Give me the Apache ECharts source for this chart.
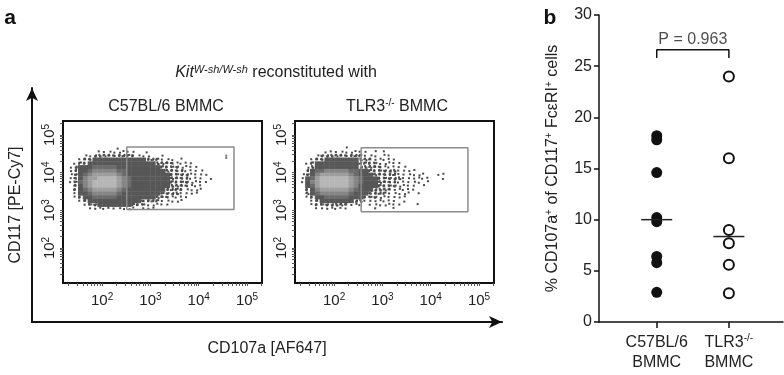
<!DOCTYPE html>
<html><head><meta charset="utf-8">
<script src="https://cdn.jsdelivr.net/npm/echarts@6/dist/echarts.min.js"></script>
<style>html,body{margin:0;padding:0;background:#fff}#c{width:784px;height:375px}</style>
</head><body><div id="c"></div>
<script>
// ================= Panel a data (flow cytometry, log10 units) =================
const decadeTicks = [2, 3, 4, 5];            // 10^2 .. 10^5
const xRange = [1.19, 5.31];
const yRange = [1.07, 5.37];
const gridStep = 0.1;                        // density cell size (decades)
const gridX0 = 1.3;                          // left edge of first column
const gridYTop = 4.7;                        // top edge of first row
// density level per cell (0 empty, 1 sparse ... 7 densest), rows top -> bottom
const densityC57 = [
  "0000000000100000000000000000000",
  "0000001111111100100000000000000",
  "0001122222222211100100000000000",
  "0012233333333333222111010000000",
  "0122333333333333332222111100000",
  "1233344444333333333222211110000",
  "1233455555443333333322221111000",
  "1234566666543333333332222111100",
  "1235667777654333333332222111010",
  "1245677777654333333332222111100",
  "0235677777654333333332222111000",
  "0234566666543333333322221111000",
  "0133455555433333333222211110000",
  "0123344444333333332221111000000",
  "0012333333333332222111110000000",
  "0001223333333222111110000000000",
  "0000111111111101110000000000000"
];
const densityTLR3 = [
  "0000000001000000000000000000000",
  "0000011111111101010000000000000",
  "0001222222222111011000000000000",
  "0012233333332221111100000000000",
  "0123333333332222111110000000000",
  "0123333333332222211111000000000",
  "0234455555443322222211110000000",
  "1235666666543332222211111100110",
  "1346777777654333222221111110010",
  "1356777777654333222211111010000",
  "0346777777653333222211110100000",
  "0235666666543332222111110000000",
  "0234555555433322221111101000000",
  "0123344444333222111111000000000",
  "0012333333322111111101000000000",
  "0012222222111011111110001000000",
  "0001111111000001000100000000000"
];
const gateC57 = [2.51, 4.73, 3.02, 4.68];    // xmin, xmax, ymin, ymax
const gateTLR3 = [2.56, 4.77, 2.96, 4.66];
const strayC57 = [[4.57, 4.45], [4.57, 4.39]];

// ================= Panel b data =================
const groupPos = [1, 2];
const c57Values = [18.2, 17.8, 14.6, 10.2, 9.8, 6.4, 5.8, 2.9];
const tlr3Values = [24.0, 16.0, 9.0, 7.7, 5.6, 2.8];
const bracketY = [25.8, 26.6];
const pValueText = 'P = 0.963';

// ---------------- helpers ----------------
function median(a) { const s = a.slice().sort((p, q) => p - q); const m = s.length >> 1; return s.length % 2 ? s[m] : (s[m - 1] + s[m]) / 2; }
function gridToData(rows) {
  const out = [];
  rows.forEach((row, j) => {
    const r = row.padEnd(31, '0');
    for (let i = 0; i < r.length; i++) {
      const lv = +r[i];
      if (lv > 0) out.push([gridX0 + (i + 0.5) * gridStep, gridYTop - (j + 0.5) * gridStep, lv, i, j]);
    }
  });
  return out;
}
function gateLine(g) { return [[g[0], g[2]], [g[1], g[2]], [g[1], g[3]], [g[0], g[3]], [g[0], g[2]]]; }
const logTicks = [];
for (let n = 1; n <= 5; n++) for (let k = 1; k <= 9; k++) logTicks.push(n + Math.log10(k));
const xLogTicks = logTicks.filter(v => v >= xRange[0] && v <= xRange[1]);
const yLogTicks = logTicks.filter(v => v >= yRange[0] && v <= yRange[1]);

const SHADES = { 3: '#575757', 4: '#6b6b6b', 5: '#858585', 6: '#9e9e9e', 7: '#b6b6b6' };
const JIT = [[0.15, 0.2], [0.62, 0.7], [0.38, 0.02], [0.9, 0.35], [0.02, 0.78], [0.5, 0.45], [0.82, 0.95], [0.27, 0.55], [0.7, 0.1], [0.1, 0.4], [0.55, 0.9]];
function renderDensity(params, api) {
  const x = api.value(0), y = api.value(1), lv = api.value(2), i = api.value(3), j = api.value(4);
  const a = api.coord([x - gridStep / 2, y + gridStep / 2]);
  const b = api.coord([x + gridStep / 2, y - gridStep / 2]);
  const w = b[0] - a[0], h = b[1] - a[1];
  if (lv >= 3) return { type: 'rect', shape: { x: a[0], y: a[1], width: w + 0.4, height: h + 0.4 }, style: { fill: SHADES[lv] } };
  const n = lv === 1 ? 1 : 3;
  const ch = [];
  for (let k = 0; k < n; k++) {
    const jt = JIT[(i * 7 + j * 13 + k * 4) % JIT.length];
    ch.push({ type: 'rect', shape: { x: a[0] + jt[0] * (w - 2), y: a[1] + jt[1] * (h - 2), width: 2, height: 2 }, style: { fill: '#4a4a4a' } });
  }
  return { type: 'group', children: ch };
}

const FONT = 'Liberation Sans, Arial, sans-serif';
const supRich = {
  b: { fontSize: 15, lineHeight: 17, color: '#222', fontFamily: FONT },
  s: { fontSize: 10, lineHeight: 10, verticalAlign: 'top', color: '#222', fontFamily: FONT }
};
function plotX(gi) {
  return {
    gridIndex: gi, type: 'value', min: xRange[0], max: xRange[1],
    axisLine: { show: true, lineStyle: { color: '#111', width: 2 } },
    axisTick: { show: true, customValues: xLogTicks, length: 3, lineStyle: { color: '#555', width: 1 } },
    axisLabel: { show: true, customValues: decadeTicks, margin: 9, formatter: v => '{b|10}{s|' + Math.round(v) + '}', rich: supRich },
    splitLine: { show: false }
  };
}
function plotY(gi) {
  return {
    gridIndex: gi, type: 'value', min: yRange[0], max: yRange[1],
    axisLine: { show: true, lineStyle: { color: '#111', width: 2 } },
    axisTick: { show: true, customValues: yLogTicks, length: 3, lineStyle: { color: '#555', width: 1 } },
    axisLabel: { show: true, rotate: 90, customValues: decadeTicks, margin: 5, formatter: v => '{b|10}{s|' + Math.round(v) + '}', rich: supRich },
    splitLine: { show: false }
  };
}

const chart = echarts.init(document.getElementById('c'), null, { renderer: 'canvas' });
const medC = median(c57Values), medT = median(tlr3Values);

chart.setOption({
  animation: false,
  backgroundColor: '#fff',
  textStyle: { fontFamily: FONT },
  grid: [
    { left: 27, top: 88, width: 475, height: 234, show: false },
    { left: 63, top: 121, width: 199, height: 162, show: true, borderColor: '#111', borderWidth: 2, backgroundColor: 'transparent' },
    { left: 295, top: 121, width: 199, height: 162, show: true, borderColor: '#111', borderWidth: 2, backgroundColor: 'transparent' },
    { left: 599, top: 15, width: 184, height: 307, show: false }
  ],
  xAxis: [
    { gridIndex: 0, type: 'value', min: 0, max: 1,
      axisLine: { show: true, onZero: false, symbol: ['none', 'arrow'], symbolSize: [9, 13], lineStyle: { color: '#111', width: 2 } },
      axisTick: { show: false }, axisLabel: { show: false }, splitLine: { show: false },
      name: 'CD107a [AF647]', nameLocation: 'middle', nameGap: 19, nameTextStyle: { fontSize: 16, color: '#222', fontFamily: FONT } },
    plotX(1),
    plotX(2),
    { gridIndex: 3, type: 'value', min: 0.2, max: 2.75,
      axisLine: { show: true, onZero: false, lineStyle: { color: '#111', width: 1.5 } },
      axisTick: { show: true, customValues: groupPos, length: 6, lineStyle: { color: '#111', width: 1.5 } },
      axisLabel: { show: true, customValues: groupPos, margin: 11, color: '#222',
        formatter: v => v === 1 ? '{t|C57BL/6}\n{t|BMMC}' : '{t|TLR3}{s|-/-}\n{t|BMMC}',
        rich: { t: { fontSize: 16, lineHeight: 20, color: '#222', fontFamily: FONT, align: 'center' },
                s: { fontSize: 10, lineHeight: 10, verticalAlign: 'top', color: '#222', fontFamily: FONT } } },
      splitLine: { show: false } }
  ],
  yAxis: [
    { gridIndex: 0, type: 'value', min: 0, max: 1,
      axisLine: { show: true, onZero: false, symbol: ['none', 'arrow'], symbolSize: [9, 13], lineStyle: { color: '#111', width: 2 } },
      axisTick: { show: false }, axisLabel: { show: false }, splitLine: { show: false },
      name: 'CD117 [PE-Cy7]', nameLocation: 'middle', nameGap: 8, nameRotate: 90, nameTextStyle: { fontSize: 16, color: '#222', fontFamily: FONT } },
    plotY(1),
    plotY(2),
    { gridIndex: 3, type: 'value', min: 0, max: 30, interval: 5,
      axisLine: { show: true, onZero: false, lineStyle: { color: '#111', width: 1.5 } },
      axisTick: { show: true, length: 5, lineStyle: { color: '#111', width: 1.5 } },
      axisLabel: { fontSize: 16, color: '#222', margin: 7, fontFamily: FONT },
      splitLine: { show: false },
      name: '{n|% CD107a}{s|+}{n| of CD117}{s|+}{n| FcεRI}{s|+}{n| cells}', nameLocation: 'middle', nameGap: 37, nameRotate: 90,
      nameTextStyle: { rich: { n: { fontSize: 16, lineHeight: 18, color: '#222', fontFamily: FONT },
                               s: { fontSize: 10, lineHeight: 10, verticalAlign: 'top', color: '#222', fontFamily: FONT } } } }
  ],
  series: [
    { type: 'custom', xAxisIndex: 1, yAxisIndex: 1, data: gridToData(densityC57), renderItem: renderDensity, encode: { x: 0, y: 1 }, clip: true, silent: true },
    { type: 'line', xAxisIndex: 1, yAxisIndex: 1, data: gateLine(gateC57), showSymbol: false, lineStyle: { color: '#8c8c8c', width: 1.5 }, z: 5 },
    { type: 'scatter', xAxisIndex: 1, yAxisIndex: 1, data: strayC57, symbol: 'rect', symbolSize: 2, itemStyle: { color: '#777', opacity: 1 } },
    { type: 'custom', xAxisIndex: 2, yAxisIndex: 2, data: gridToData(densityTLR3), renderItem: renderDensity, encode: { x: 0, y: 1 }, clip: true, silent: true },
    { type: 'line', xAxisIndex: 2, yAxisIndex: 2, data: gateLine(gateTLR3), showSymbol: false, lineStyle: { color: '#8c8c8c', width: 1.5 }, z: 5 },

    { type: 'scatter', xAxisIndex: 3, yAxisIndex: 3, data: c57Values.map(v => [groupPos[0], v]), symbol: 'circle', symbolSize: 11, itemStyle: { color: '#111', opacity: 1 } },
    { type: 'scatter', xAxisIndex: 3, yAxisIndex: 3, data: tlr3Values.map(v => [groupPos[1], v]), symbol: 'circle', symbolSize: 10, itemStyle: { color: '#fff', borderColor: '#111', borderWidth: 2, opacity: 1 } },
    { type: 'scatter', xAxisIndex: 3, yAxisIndex: 3, data: [[groupPos[0], medC], [groupPos[1], medT]], symbol: 'rect', symbolSize: [31, 1.5], itemStyle: { color: '#222', opacity: 1 }, z: 6 },
    { type: 'line', xAxisIndex: 3, yAxisIndex: 3, data: [[groupPos[0], bracketY[0]], [groupPos[0], bracketY[1]], [groupPos[1], bracketY[1]], [groupPos[1], bracketY[0]]],
      showSymbol: false, lineStyle: { color: '#111', width: 1.5 } },
    { type: 'scatter', xAxisIndex: 3, yAxisIndex: 3, data: [[(groupPos[0] + groupPos[1]) / 2, bracketY[1]]], symbolSize: 0,
      label: { show: true, position: 'top', distance: 2, formatter: pValueText, fontSize: 16, color: '#222', fontFamily: FONT } }
  ],
  graphic: [
    { type: 'text', x: 10, y: 18, style: { text: 'a', font: 'bold 21px ' + FONT, fill: '#111', align: 'center', verticalAlign: 'middle' } },
    { type: 'text', x: 550, y: 18, style: { text: 'b', font: 'bold 21px ' + FONT, fill: '#111', align: 'center', verticalAlign: 'middle' } },
    { type: 'text', x: 276, y: 73, style: {
        text: '{i|Kit}{si|W-sh/W-sh}{n| reconstituted with}', align: 'center', verticalAlign: 'middle',
        rich: { i: { fontSize: 16, lineHeight: 18, fontStyle: 'italic', fontFamily: FONT, fill: '#222' },
                si: { fontSize: 11, lineHeight: 11, verticalAlign: 'top', fontStyle: 'italic', fontFamily: FONT, fill: '#222' },
                n: { fontSize: 16, lineHeight: 18, fontFamily: FONT, fill: '#222' } } } },
    { type: 'text', x: 166, y: 107, style: { text: 'C57BL/6 BMMC', font: '16px ' + FONT, fill: '#222', align: 'center', verticalAlign: 'middle' } },
    { type: 'text', x: 397, y: 107, style: {
        text: '{n|TLR3}{s|-/-}{n| BMMC}', align: 'center', verticalAlign: 'middle',
        rich: { n: { fontSize: 16, lineHeight: 18, fontFamily: FONT, fill: '#222' },
                s: { fontSize: 10, lineHeight: 10, verticalAlign: 'top', fontFamily: FONT, fill: '#222' } } } }
  ]
});
</script>
</body></html>
